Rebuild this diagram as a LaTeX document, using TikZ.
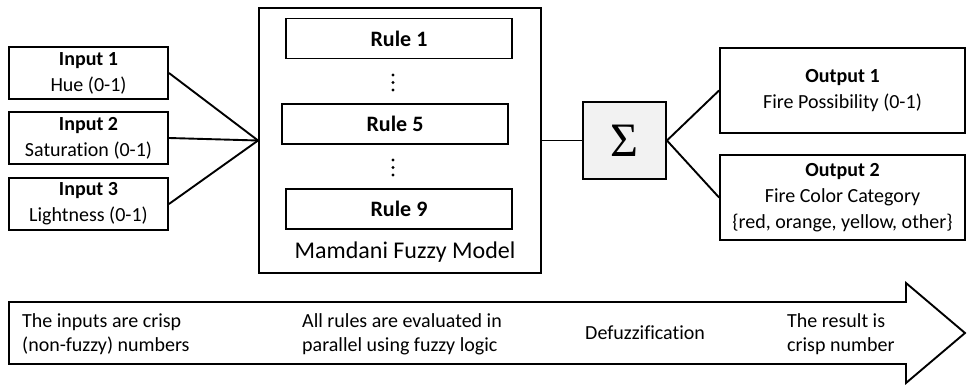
\documentclass[tikz,border=0pt]{standalone}
\usepackage{fontspec}
\setmainfont{Carlito}[Ligatures=NoCommon]
\newfontfamily\sigmafont{Liberation Serif}
\usetikzlibrary{positioning}

\begin{document}
\begin{tikzpicture}[x=1pt,y=-1pt,
  box/.style={draw,line width=1.9pt,inner sep=0pt,align=center,
    font=\fontsize{20}{26}\selectfont},
  inbox/.style={box,minimum width=159pt,minimum height=52pt},
  outbox/.style={box,minimum width=245pt,minimum height=85pt},
  rulebox/.style={box,minimum width=226pt,minimum height=40pt,
    font=\fontsize{22}{26}\selectfont\bfseries},
  note/.style={anchor=west,align=left,inner sep=0pt,
    font=\fontsize{20}{24}\selectfont},
  wire/.style={line width=1.9pt}]
\useasboundingbox (0,0) rectangle (969,385);

% fuzzy model with its rule base
\node[box,minimum width=282pt,minimum height=265pt] (model) at (400,140.5) {};
\coordinate (hub) at (model.west);
\node[rulebox] (rule1) at (399,38.5) {Rule 1};
\node[rulebox] (rule5) at (395,124) {Rule 5};
\node[rulebox] (rule9) at (399,209) {Rule 9};
\foreach \y in {75,82.5,90,160,167.5,175}
  \fill (393,\y) circle (1.6);
\node[font=\fontsize{24}{28}\selectfont] (modelname) at (405,252) {Mamdani Fuzzy Model};

% inputs
\foreach \i/\y/\txt in {1/73/Hue (0-1),2/138/Saturation (0-1),3/204/Lightness (0-1)}{
  \node[inbox] (in\i) at (88.5,\y) {\textbf{Input \i}\\\txt};
  \draw[wire] (in\i.east) -- (hub);
}

% defuzzification and outputs
\node[box,fill=gray!10,minimum width=83pt,minimum height=77pt,
  font=\sigmafont\fontsize{48}{48}\selectfont] (sum) at (624.5,140.5) {Σ};
\node[outbox] (out1) at (842.5,90.5) {\textbf{Output 1}\\Fire Possibility (0-1)};
\node[outbox] (out2) at (842.5,197.5)
  {\textbf{Output 2}\\Fire Color Category\\\{red, orange, yellow, other\}};
\draw[wire] (model.east) -- (sum.west);
\draw[wire] (sum.east) -- (out1.west);
\draw[wire] (sum.east) -- (out2.west);

% process arrow along the bottom
\draw[wire] (9,302) -- (906,302) -- (906,283) -- (965,333) -- (906,383)
  -- (906,364) -- (9,364) -- cycle;
\node[note] (step1) at (22,334) {The inputs are crisp\\(non-fuzzy) numbers};
\node[note] (step2) at (302,334) {All rules are evaluated in\\parallel using fuzzy logic};
\node[note] (step3) at (585,333) {Defuzzification};
\node[note] (step4) at (787,334) {The result is\\crisp number};
\end{tikzpicture}
\end{document}
